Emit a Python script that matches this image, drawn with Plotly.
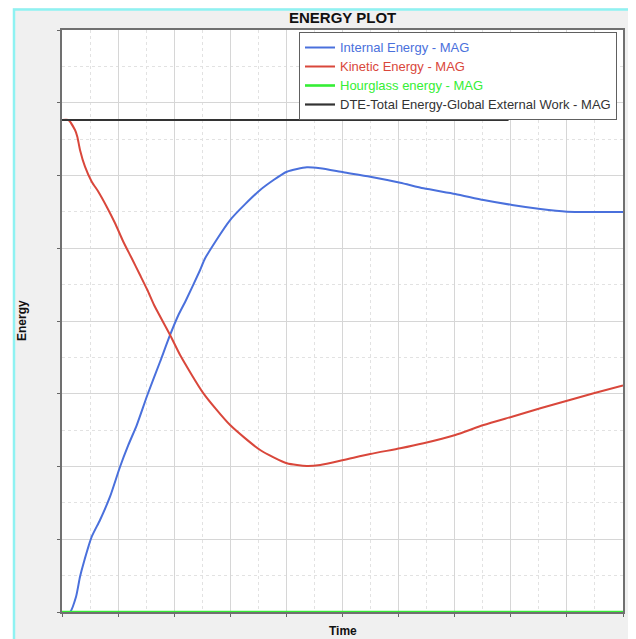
import plotly.graph_objects as go

# ---- data (time / energy in axis-division units, no tick labels shown) ----
t_internal = [0.0, 0.143, 0.250, 0.321, 0.392, 0.530, 0.678, 0.856, 1.035, 1.183, 1.333, 1.522,
              1.748, 1.927, 2.075, 2.212, 2.462, 2.551, 2.997, 3.532, 4.008, 4.365, 4.602,
              5.018, 5.494, 6.029, 6.445, 7.010, 7.515, 8.022, 8.527, 9.003, 9.477, 10.0]
e_internal = [0.0, 0.0, 0.210, 0.485, 0.691, 1.035, 1.265, 1.585, 1.997, 2.296, 2.570, 2.983,
              3.440, 3.808, 4.082, 4.289, 4.701, 4.862, 5.388, 5.801, 6.052, 6.113, 6.099,
              6.044, 5.984, 5.901, 5.824, 5.746, 5.663, 5.595, 5.540, 5.503, 5.498, 5.498]

t_kinetic = [0.0, 0.112, 0.232, 0.273, 0.321, 0.410, 0.530, 0.648, 0.797, 0.946, 1.093, 1.243,
             1.391, 1.522, 1.641, 1.927, 2.105, 2.521, 2.997, 3.532, 4.008, 4.365, 4.602,
             5.018, 5.494, 6.029, 6.445, 7.010, 7.515, 8.022, 8.527, 9.003, 9.477, 10.0]
e_kinetic = [6.763, 6.763, 6.625, 6.533, 6.351, 6.121, 5.915, 5.777, 5.571, 5.343, 5.090, 4.862,
             4.632, 4.426, 4.220, 3.808, 3.533, 3.006, 2.570, 2.227, 2.044, 2.007, 2.021,
             2.089, 2.172, 2.250, 2.319, 2.433, 2.570, 2.685, 2.800, 2.904, 3.006, 3.115]

t_hourglass = [0.0, 10.0]
e_hourglass = [0.0, 0.0]

t_total = [0.0, 7.96]
e_total = [6.763, 6.763]

names = ["Internal Energy - MAG", "Kinetic Energy - MAG", "Hourglass energy - MAG",
         "DTE-Total Energy-Global External Work - MAG"]
colors = ["#4a70dc", "#d9473b", "#35ee35", "#333333"]

fig = go.Figure()
series = [(t_internal, e_internal), (t_kinetic, e_kinetic), (t_hourglass, e_hourglass), (t_total, e_total)]
widths = [2, 2, 2.6, 2.2]
for (tx, ey), nm, c, w in zip(series, names, colors, widths):
    fig.add_trace(go.Scatter(
        x=tx, y=ey, mode="lines", line=dict(color=c, width=w, shape="spline", smoothing=0.6),
        name=f"<span style='color:{c};font-size:13px'>{nm}</span>", cliponaxis=False))

# the page body has an 8px margin; work in page pixels
OFF = 8
FW, FH = 636 - OFF, 639 - OFF
# plot area in page pixels: left 62, right 623, top 30, bottom 612
L, R, T, B = 62, 623, 30, 612
W, H = R - L, B - T
def px(x): return (x - L) / W
def py(y): return (B - y) / H

axis_common = dict(
    showticklabels=False, ticks="outside", ticklen=3, tickcolor="#666666", tickwidth=1,
    showgrid=True, gridcolor="#d6d6d6", gridwidth=1,
    showline=True, linecolor="#707070", linewidth=2, mirror=True,
    zeroline=False, layer="below traces", dtick=1,
    minor=dict(dtick=0.5, showgrid=True, gridcolor="#e2e2e2", griddash="dot", gridwidth=1),
)

fig.update_layout(
    width=FW, height=FH,
    margin=dict(l=L - OFF, r=636 - R, t=T - OFF, b=639 - B),
    paper_bgcolor="#f0f0f0", plot_bgcolor="white",
    font=dict(family="Liberation Sans, Arial, sans-serif", size=13, color="#111111"),
    xaxis=dict(range=[0, 10], tick0=0, **axis_common),
    yaxis=dict(range=[0, 8], tick0=0, **axis_common),
    showlegend=True,
    legend=dict(x=px(299), y=py(32), xanchor="left", yanchor="top",
                bgcolor="white", bordercolor="#606060", borderwidth=1,
                font=dict(size=11), tracegroupgap=0, itemwidth=30),
    shapes=[
        dict(type="rect", xref="paper", yref="paper", x0=px(0), x1=px(13), y0=py(700), y1=py(0),
             line=dict(width=0), fillcolor="white"),
        dict(type="rect", xref="paper", yref="paper", x0=px(632), x1=px(700), y0=py(700), y1=py(0),
             line=dict(width=0), fillcolor="white"),
        dict(type="rect", xref="paper", yref="paper",
             x0=px(14), x1=px(631), y0=py(660), y1=py(9.5),
             line=dict(color="#8ef2f2", width=2.5), fillcolor="rgba(0,0,0,0)"),
    ],
    annotations=[
        dict(text="<b>ENERGY PLOT</b>", x=0.5, y=py(17), xref="paper", yref="paper",
             showarrow=False, font=dict(size=15, color="#111111"), yanchor="middle"),
        dict(text="<b>Time</b>", x=0.5, y=py(631), xref="paper", yref="paper",
             showarrow=False, font=dict(size=12, color="#111111"), yanchor="middle"),
        dict(text="<b>Energy</b>", x=px(22), y=0.5, xref="paper", yref="paper",
             showarrow=False, textangle=-90, font=dict(size=12, color="#111111"),
             xanchor="center", yanchor="middle"),
    ],
)

fig.write_html("out.html")
